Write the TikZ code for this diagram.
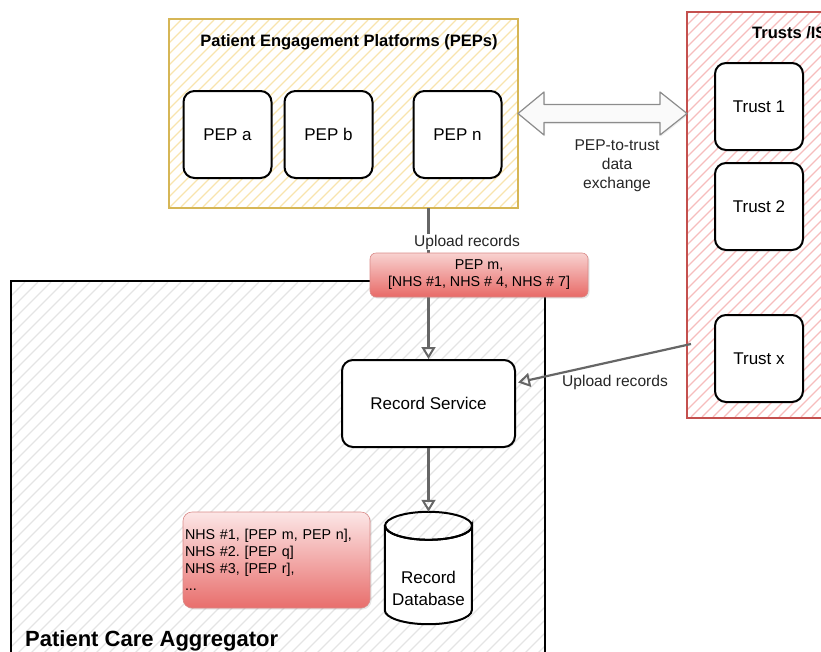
\documentclass[tikz,border=0pt]{standalone}
\usepackage{fontspec}
\setmainfont{Liberation Sans}
\usetikzlibrary{arrows.meta,calc,shadows}
\frenchspacing
\definecolor{edgegray}{HTML}{666666}
\definecolor{pepborder}{HTML}{D6B656}
\definecolor{pephatch}{HTML}{F8E4AE}
\definecolor{trustborder}{HTML}{C4504E}
\definecolor{trusthatch}{HTML}{F6BDBD}
\definecolor{grayhatch}{HTML}{E4E4E4}
\definecolor{tagtop}{HTML}{F8D2D0}
\definecolor{tagbot}{HTML}{E86A67}
\definecolor{tagedge}{HTML}{D98A88}
\definecolor{nhstop}{HTML}{FCE6E6}
\definecolor{nhsbot}{HTML}{E86E6C}
\definecolor{arrowfill}{HTML}{FAFAFA}
\definecolor{arrowedge}{HTML}{8C8C8C}
\begin{document}
\begin{tikzpicture}[x=1pt,y=-1pt,
  container/.style={line width=2pt, inner sep=0pt},
  procbox/.style={draw=black, line width=2pt, fill=white, rounded corners=11pt, inner sep=0pt, align=center, font=\fontsize{17}{20}\selectfont, minimum width=88, minimum height=87},
  flow/.style={draw=edgegray, line width=2.2pt, -{Triangle[open,length=12pt,width=14pt,line width=2pt]}},
  lbl/.style={font=\fontsize{15.6}{19}\selectfont, inner sep=1pt, align=center, text=black!85},
  titlefont/.style={font=\bfseries\fontsize{16.5}{20}\selectfont, inner sep=0pt},
  redtag/.style={rounded corners=6pt, top color=tagtop, bottom color=tagbot, draw=tagedge, line width=0.6pt, drop shadow={opacity=0.2,shadow xshift=1.5pt,shadow yshift=-1.5pt}, align=center, font=\fontsize{14.3}{17}\selectfont, inner sep=0pt},
]
\useasboundingbox (0,0) rectangle (821,651);

% ---------- containers ----------
\node[container, minimum width=347, minimum height=187] (pepc) at (343.5,113.5) {};
\node[container, minimum width=172, minimum height=404] (trusts) at (774,215) {};
\node[container, minimum width=532, minimum height=418] (agg) at (278,491) {};

% hatching
\begin{scope}
  \clip (pepc.north west) rectangle (pepc.south east);
  \foreach \x in {-17,-6,...,520} \draw[pephatch, line width=1.3pt] (\x,207) -- ++(187,-187);
\end{scope}
\begin{scope}
  \clip (trusts.north west) rectangle (trusts.south east);
  \foreach \x in {284,295,...,862} \draw[trusthatch, line width=1.3pt] (\x,417) -- ++(404,-404);
\end{scope}
\begin{scope}
  \clip (agg.north west) rectangle (agg.south east);
  \foreach \x in {-406,-393,...,546} \draw[grayhatch, line width=1.2pt] (\x,700) -- ++(418,-418);
\end{scope}

\draw[pepborder, line width=2pt] (pepc.north west) rectangle (pepc.south east);
\draw[trustborder, line width=2pt] (trusts.north west) rectangle (trusts.south east);
\draw[black, line width=2pt] (agg.north west) rectangle (agg.south east);

% titles
\node[titlefont] (peptitle) at (349,42) {Patient Engagement Platforms (PEPs)};
\node[titlefont, anchor=west] (trusttitle) at (752,33) {Trusts /IS};
\node[font=\bfseries\fontsize{22}{26}\selectfont, inner sep=0pt, anchor=base west] (aggtitle) at (25,646) {Patient Care Aggregator};

% ---------- boxes ----------
\node[procbox] (pepa) at (227.5,134.5) {PEP a};
\node[procbox] (pepb) at (328.5,134.5) {PEP b};
\node[procbox] (pepn) at (457.5,134.5) {PEP n};

\node[procbox] (t1) at (759,106.5) {Trust 1};
\node[procbox] (t2) at (759,206.5) {Trust 2};
\node[procbox] (tx) at (759,358.5) {Trust x};

\node[procbox, minimum width=173, minimum height=87] (rs) at (428.5,403.5) {Record Service};

% database cylinder
\node[minimum width=87, minimum height=112, inner sep=0pt] (db) at (428.5,568) {};
\draw[line width=2pt, fill=white]
  ($(db.north west)+(0,14)$) -- ($(db.south west)+(0,-14)$)
  arc[start angle=180, end angle=0, x radius=43.5, y radius=14]
  -- ($(db.north east)+(0,14)$)
  arc[start angle=0, end angle=180, x radius=43.5, y radius=14] -- cycle;
\draw[line width=2pt] ($(db.north)+(0,14)$) ellipse [x radius=43.5, y radius=14];
\node[align=center, font=\fontsize{17}{22}\selectfont, inner sep=0pt] (dbtext) at (428.5,588) {Record\\Database};

% ---------- double arrow ----------
\coordinate (dl) at (pepc.east);
\coordinate (dr) at (trusts.west |- pepc.east);
\draw[arrowedge, fill=arrowfill, line width=1.2pt, line join=round,
      drop shadow={opacity=0.15,shadow xshift=1pt,shadow yshift=-1.5pt}]
  (dl) -- ($(dl)+(26,-21.5)$) -- ($(dl)+(26,-9)$) -- ($(dr)+(-27,-9)$)
  -- ($(dr)+(-27,-21.5)$) -- (dr) -- ($(dr)+(-27,21.5)$) -- ($(dr)+(-27,9)$)
  -- ($(dl)+(26,9)$) -- ($(dl)+(26,21.5)$) -- cycle;
\node[lbl] (xchg) at (617,166) {PEP-to-trust\\data\\exchange};

% ---------- connectors ----------
\draw[flow] (rs.north |- pepc.south) -- (rs.north);
\node[lbl, fill=white] (up1) at (467,242) {Upload records};
\node[redtag, minimum width=218, minimum height=44] (tag) at (479,275) {PEP m,\\{}[NHS \#1, NHS \# 4, NHS \# 7]};

\coordinate (tsrc) at (691,344);
\draw[flow] (tsrc) -- ($(rs.east)+(2,-21)$);
\node[lbl] (up2) at (615,382) {Upload records};

\draw[flow] (rs.south) -- (db.north);

% NHS list box
\node[redtag, top color=nhstop, bottom color=nhsbot, rounded corners=9pt, minimum width=187, minimum height=96, text width=183, align=left, inner sep=2pt] (nhs) at (276.5,560)
  {NHS \#1, [PEP m, PEP n],\\NHS \#2. [PEP q]\\NHS \#3, [PEP r],\\...};
\end{tikzpicture}
\end{document}
